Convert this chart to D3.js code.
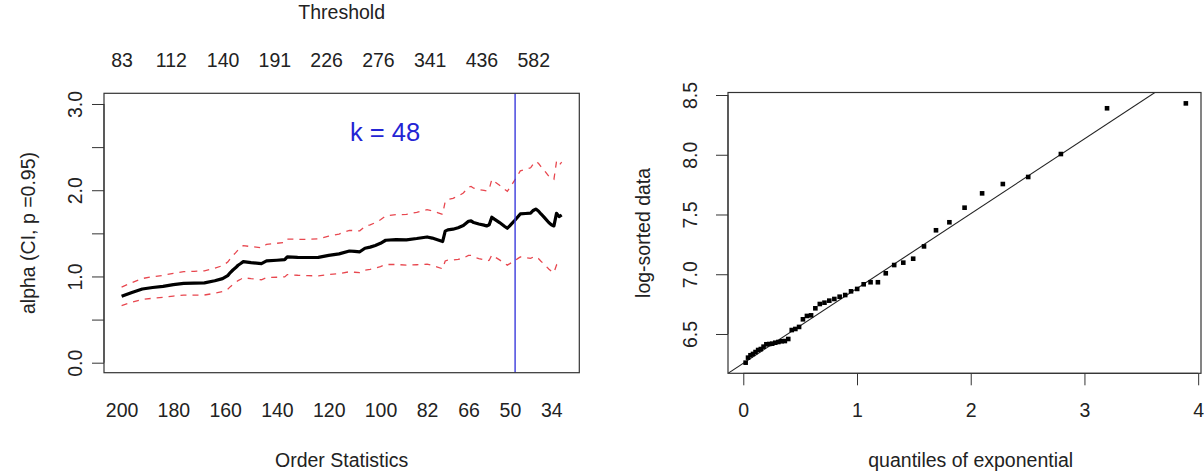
<!DOCTYPE html>
<html><head><meta charset="utf-8">
<script src="https://cdn.jsdelivr.net/npm/d3@7"></script>
<style>
body{margin:0;background:#fff}
text{font-family:"Liberation Sans",Arial,Helvetica,sans-serif;fill:#222;font-size:19.5px}
</style>
</head><body>
<svg id="c" width="1204" height="475"></svg>
<script>
// ---------- data: Hill plot ----------
const orderK = [200,196,192,188,184,180,176,172,168,164,161,159,158,157,156,155,154,153,150,146,144,140,137,136,132,128,124,120,116,112,110,108,106,104,102,100,98,94,90,86,82,80,78,76,75,74,72,70,68,66,65,64,62,60,59,58,57,56,54,52,51,50,48,47,46,44,42,41,40,39,38,37,35,34,33,32,31,30];
const alphaHat = [0.770,0.815,0.855,0.872,0.885,0.905,0.920,0.922,0.925,0.950,0.975,1.010,1.045,1.075,1.100,1.130,1.150,1.172,1.160,1.148,1.180,1.188,1.195,1.228,1.222,1.220,1.222,1.245,1.262,1.295,1.290,1.286,1.327,1.340,1.360,1.385,1.420,1.428,1.425,1.440,1.458,1.445,1.425,1.405,1.525,1.540,1.548,1.565,1.590,1.640,1.644,1.625,1.608,1.595,1.586,1.600,1.687,1.665,1.625,1.580,1.559,1.590,1.655,1.690,1.725,1.730,1.735,1.765,1.782,1.760,1.725,1.694,1.625,1.600,1.586,1.733,1.694,1.713];
const ciUpper = [0.877,0.929,0.976,0.997,1.013,1.037,1.056,1.060,1.065,1.095,1.126,1.167,1.208,1.243,1.273,1.308,1.332,1.358,1.346,1.334,1.373,1.385,1.395,1.434,1.431,1.431,1.437,1.468,1.492,1.535,1.531,1.529,1.580,1.598,1.624,1.657,1.701,1.717,1.719,1.744,1.774,1.762,1.741,1.721,1.870,1.891,1.906,1.932,1.968,2.036,2.044,2.023,2.008,1.999,1.991,2.012,2.125,2.101,2.058,2.009,1.987,2.031,2.123,2.173,2.224,2.241,2.260,2.305,2.334,2.312,2.274,2.240,2.163,2.138,2.127,2.334,2.290,2.326];
const ciLower = [0.663,0.701,0.734,0.747,0.757,0.773,0.784,0.784,0.785,0.805,0.824,0.853,0.882,0.907,0.927,0.952,0.968,0.986,0.974,0.962,0.987,0.991,0.995,1.022,1.014,1.009,1.007,1.022,1.032,1.055,1.049,1.044,1.074,1.083,1.096,1.114,1.139,1.139,1.131,1.136,1.143,1.128,1.109,1.089,1.180,1.189,1.190,1.198,1.212,1.244,1.244,1.227,1.208,1.192,1.181,1.188,1.249,1.229,1.192,1.151,1.131,1.149,1.187,1.207,1.227,1.219,1.210,1.225,1.230,1.208,1.176,1.148,1.087,1.062,1.045,1.133,1.098,1.100];
const kSelected = 48;
const bottomTickK = [200,180,160,140,120,100,82,66,50,34];
const topTickK = [200,181,161,141,121,101,81,61,41];
const thresholdLabels = ["83","112","140","191","226","276","341","436","582"];
const alphaTicks = [0,0.5,1,1.5,2,2.5,3];
const alphaTickLabels = ["0.0","","1.0","","2.0","","3.0"];

// ---------- data: QQ plot ----------
const expQuantiles = [0.0206,0.0417,0.0632,0.0852,0.1076,0.1306,0.1542,0.1783,0.2029,0.2283,0.2543,0.2809,0.3083,0.3365,0.3655,0.3953,0.4261,0.4578,0.4906,0.5245,0.5596,0.5960,0.6337,0.6729,0.7138,0.7563,0.8008,0.8473,0.8961,0.9474,1.0015,1.0586,1.1192,1.1838,1.2528,1.3269,1.4069,1.4939,1.5892,1.6946,1.8124,1.9459,2.1001,2.2824,2.5055,2.7928,3.1987,3.8918];
const logSorted = [6.260,6.302,6.322,6.333,6.349,6.366,6.374,6.394,6.414,6.416,6.419,6.427,6.433,6.439,6.441,6.458,6.533,6.542,6.559,6.623,6.651,6.656,6.715,6.751,6.762,6.779,6.793,6.812,6.826,6.857,6.877,6.916,6.933,6.933,7.008,7.077,7.097,7.130,7.233,7.368,7.435,7.557,7.677,7.755,7.814,8.006,8.389,8.430];
const qqLineCoef = [6.255, 0.626]; // intercept, slope
const qqXTicks = [0,1,2,3,4];
const qqYTicks = [6.5,7.0,7.5,8.0,8.5];

const svg = d3.select("#c");
const axisCol = "#333";

// ---------- left panel ----------
const L = {x0:104, x1:579.3, y0:93.3, y1:372.7};
const xL = d3.scaleLinear().domain([206.8, 23.2]).range([L.x0, L.x1]);
const yL = d3.scaleLinear().domain([-0.116, 3.124]).range([L.y1, L.y0]);
const gL = svg.append("g");

gL.append("defs").append("clipPath").attr("id","clipL")
  .append("rect").attr("x",L.x0).attr("y",L.y0).attr("width",L.x1-L.x0).attr("height",L.y1-L.y0);

const hill = orderK.map((k,i)=>({k, a:alphaHat[i], u:ciUpper[i], l:ciLower[i]}));
const plotL = gL.append("g").attr("clip-path","url(#clipL)");
plotL.append("path").datum(hill)
  .attr("d", d3.line().x(d=>xL(d.k)).y(d=>yL(d.u)))
  .attr("fill","none").attr("stroke","#e8474f").attr("stroke-width",1.3).attr("stroke-dasharray","6,6");
plotL.append("path").datum(hill)
  .attr("d", d3.line().x(d=>xL(d.k)).y(d=>yL(d.l)))
  .attr("fill","none").attr("stroke","#e8474f").attr("stroke-width",1.3).attr("stroke-dasharray","6,6");
plotL.append("path").datum(hill)
  .attr("d", d3.line().x(d=>xL(d.k)).y(d=>yL(d.a)))
  .attr("fill","none").attr("stroke","#000").attr("stroke-width",3.2).attr("stroke-linejoin","round");
plotL.append("line")
  .attr("x1",xL(kSelected)).attr("x2",xL(kSelected)).attr("y1",L.y0).attr("y2",L.y1)
  .attr("stroke","#3b3bdc").attr("stroke-width",1.4);
gL.append("text").attr("x",385).attr("y",132).attr("dy","0.35em")
  .attr("text-anchor","middle").style("font-size","25.5px").style("fill","#2424d4")
  .text("k = " + kSelected);

// left y axis
const ayL = gL.append("g").attr("transform",`translate(${L.x0},0)`)
  .call(d3.axisLeft(yL).tickValues(alphaTicks).tickFormat((d,i)=>alphaTickLabels[i]).tickSize(12).tickSizeOuter(0));
ayL.select(".domain").attr("stroke",axisCol).attr("d",`M0,${yL(0)}V${yL(3)}`);
ayL.selectAll(".tick line").attr("stroke",axisCol);
ayL.selectAll(".tick text").attr("x",0).attr("dy","0.35em").attr("text-anchor","middle")
  .attr("transform","translate(-29,0) rotate(-90)").style("font-size","19.5px").style("fill","#222");

// bottom axis (order statistics)
const axBL = gL.append("g").attr("transform",`translate(0,${L.y1})`)
  .call(d3.axisBottom(xL).tickValues(bottomTickK).tickFormat(d=>String(d)).tickSize(0));
axBL.select(".domain").remove();
axBL.selectAll(".tick text").attr("y",37).attr("dy","0.35em").style("font-size","19.5px").style("fill","#222");

// top axis (threshold)
const axTL = gL.append("g").attr("transform",`translate(0,${L.y0})`)
  .call(d3.axisTop(xL).tickValues(topTickK).tickFormat((d,i)=>thresholdLabels[i]).tickSize(0));
axTL.select(".domain").remove();
axTL.selectAll(".tick text").attr("y",-33).attr("dy","0.35em").style("font-size","19.5px").style("fill","#222");

gL.append("rect").attr("x",L.x0).attr("y",L.y0).attr("width",L.x1-L.x0).attr("height",L.y1-L.y0)
  .attr("fill","none").attr("stroke",axisCol).attr("stroke-width",1.2);

gL.append("text").attr("x",(L.x0+L.x1)/2).attr("y",460).attr("dy","0.35em").attr("text-anchor","middle").text("Order Statistics");
gL.append("text").attr("x",(L.x0+L.x1)/2).attr("y",12).attr("dy","0.35em").attr("text-anchor","middle").text("Threshold");
gL.append("text").attr("transform",`translate(28,${(L.y0+L.y1)/2}) rotate(-90)`).attr("dy","0.35em")
  .attr("text-anchor","middle").text("alpha (CI, p =0.95)");

// ---------- right panel ----------
const R = {x0:728, x1:1201, y0:92.5, y1:373.3};
const xR = d3.scaleLinear().domain([-0.1345, 4.025]).range([R.x0, R.x1]);
const yR = d3.scaleLinear().domain([6.171, 8.521]).range([R.y1, R.y0]);
const gR = svg.append("g");
gR.append("defs").append("clipPath").attr("id","clipR")
  .append("rect").attr("x",R.x0).attr("y",R.y0).attr("width",R.x1-R.x0).attr("height",R.y1-R.y0);
const plotR = gR.append("g").attr("clip-path","url(#clipR)");
const xd = xR.domain();
plotR.append("line")
  .attr("x1",xR(xd[0])).attr("y1",yR(qqLineCoef[0]+qqLineCoef[1]*xd[0]))
  .attr("x2",xR(xd[1])).attr("y2",yR(qqLineCoef[0]+qqLineCoef[1]*xd[1]))
  .attr("stroke","#222").attr("stroke-width",1.1);
const pts = expQuantiles.map((q,i)=>({q, v:logSorted[i]}));
const sq = 4.6;
plotR.selectAll("rect.pt").data(pts).join("rect").attr("class","pt")
  .attr("x",d=>xR(d.q)-sq/2).attr("y",d=>yR(d.v)-sq/2).attr("width",sq).attr("height",sq).attr("fill","#000");

const axBR = gR.append("g").attr("transform",`translate(0,${R.y1})`)
  .call(d3.axisBottom(xR).tickValues(qqXTicks).tickFormat(d3.format("d")).tickSize(12).tickSizeOuter(0));
axBR.select(".domain").attr("stroke",axisCol).attr("d",`M${xR(0)},0H${xR(4)}`);
axBR.selectAll(".tick line").attr("stroke",axisCol);
axBR.selectAll(".tick text").attr("y",37).attr("dy","0.35em").style("font-size","19.5px").style("fill","#222");

const ayR = gR.append("g").attr("transform",`translate(${R.x0},0)`)
  .call(d3.axisLeft(yR).tickValues(qqYTicks).tickFormat(d3.format(".1f")).tickSize(12).tickSizeOuter(0));
ayR.select(".domain").attr("stroke",axisCol).attr("d",`M0,${yR(6.5)}V${yR(8.5)}`);
ayR.selectAll(".tick line").attr("stroke",axisCol);
ayR.selectAll(".tick text").attr("x",0).attr("dy","0.35em").attr("text-anchor","middle")
  .attr("transform","translate(-38,0) rotate(-90)").style("font-size","19.5px").style("fill","#222");

gR.append("rect").attr("x",R.x0).attr("y",R.y0).attr("width",R.x1-R.x0).attr("height",R.y1-R.y0)
  .attr("fill","none").attr("stroke",axisCol).attr("stroke-width",1.2);

gR.append("text").attr("x",xR(2)).attr("y",460).attr("dy","0.35em").attr("text-anchor","middle").text("quantiles of exponential");
gR.append("text").attr("transform",`translate(643,${(R.y0+R.y1)/2}) rotate(-90)`).attr("dy","0.35em")
  .attr("text-anchor","middle").text("log-sorted data");
</script>
</body></html>
